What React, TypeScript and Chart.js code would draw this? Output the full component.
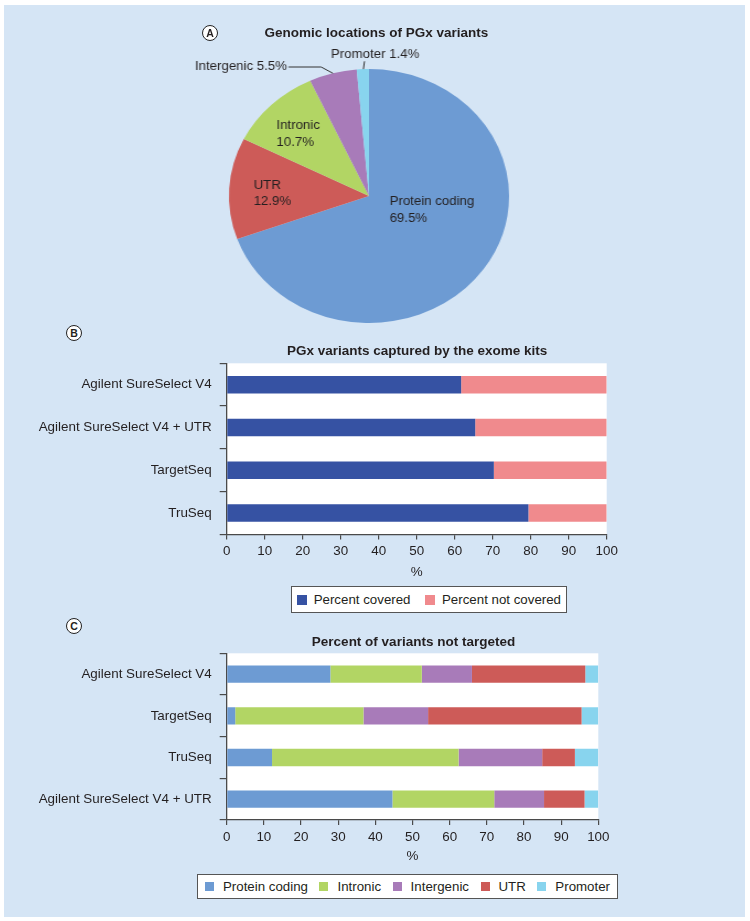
import React, { useEffect, useRef } from 'react';
import { Chart, registerables } from 'chart.js';

Chart.register(...registerables);

const FONT = '"Liberation Sans", Arial, Helvetica, sans-serif';
const TEXT = '#231f20';
const AXIS = '#4a4a4a';

// ---------- Panel A: genomic locations ----------
const pieLabels = ['Protein coding', 'UTR', 'Intronic', 'Intergenic', 'Promoter'];
const pieValues = [69.5, 12.9, 10.7, 5.5, 1.4];
const regionColors = ['#6d9bd3', '#cd5b58', '#b2d564', '#a87bb9', '#88d4ee'];

// ---------- Panel B: captured by exome kits ----------
const kitsB = ['Agilent SureSelect V4', 'Agilent SureSelect V4 + UTR', 'TargetSeq', 'TruSeq'];
const coveredB = [61.7, 65.4, 70.3, 79.4];
const notCoveredB = [38.3, 34.6, 29.7, 20.6];
const coverageNames = ['Percent covered', 'Percent not covered'];
const coverageColors = ['#3652a3', '#f08a8d'];

// ---------- Panel C: not targeted ----------
const kitsC = ['Agilent SureSelect V4', 'TargetSeq', 'TruSeq', 'Agilent SureSelect V4 + UTR'];
const proteinC = [27.9, 2.3, 12.2, 44.6];
const intronicC = [24.6, 34.5, 50.2, 27.4];
const intergenicC = [13.5, 17.4, 22.5, 13.4];
const utrC = [30.5, 41.3, 8.8, 10.9];
const promoterC = [3.5, 4.5, 6.3, 3.7];
const legendOrderC = ['Protein coding', 'Intronic', 'Intergenic', 'UTR', 'Promoter'];
const seriesC = [proteinC, intronicC, intergenicC, utrC, promoterC];

// axis tick settings
const pctMin = 0;
const pctMax = 100;
const pctStep = 10;
const pctAxisTitle = '%';

// ---------- style helpers (positions of text relative to pie centre) ----------
const pieLabelLayout: any[] = [
  { dx: 18.7, dy: 6, align: 'left', split: true },
  { dx: -104.6, dy: -10.7, align: 'left', split: true },
  { dx: -83.9, dy: -70.4, align: 'left', split: true },
  { dx: -74.4, dy: -129, align: 'right', split: false, leader: 'elbow', elbow: 31 },
  { dx: 5.6, dy: -141.7, align: 'center', split: false, leader: 'vertical' },
];

const pieLabelPlugin = {
  id: 'pieLabels',
  afterDatasetsDraw(chart: any) {
    const ctx = chart.ctx;
    const meta = chart.getDatasetMeta(0);
    ctx.save();
    ctx.font = `12px ${FONT}`;
    ctx.fillStyle = TEXT;
    ctx.strokeStyle = '#333';
    ctx.lineWidth = 1;
    ctx.textBaseline = 'middle';
    meta.data.forEach((arc: any, i: number) => {
      const p = arc.getProps(['x', 'y', 'startAngle', 'endAngle', 'outerRadius'], true);
      const L = pieLabelLayout[i];
      const mid = (p.startAngle + p.endAngle) / 2;
      const ex = p.x + Math.cos(mid) * p.outerRadius;
      const ey = p.y + Math.sin(mid) * p.outerRadius;
      const name = pieLabels[i];
      const pct = pieValues[i].toFixed(1) + '%';
      const tx = p.x + L.dx;
      const ty = p.y + L.dy;
      ctx.textAlign = L.align;
      if (L.split) {
        ctx.fillText(name, tx, ty);
        ctx.fillText(pct, tx, ty + 16.6);
      } else {
        ctx.fillText(`${name} ${pct}`, tx, ty);
      }
      if (L.leader === 'elbow') {
        ctx.beginPath();
        ctx.moveTo(tx + 1.5, ty);
        ctx.lineTo(tx + L.elbow, ty);
        ctx.lineTo(ex, ey);
        ctx.stroke();
      } else if (L.leader === 'vertical') {
        ctx.beginPath();
        ctx.moveTo(ex + 1.5, ty + 7);
        ctx.lineTo(ex + 0.5, ey);
        ctx.stroke();
      }
    });
    ctx.restore();
  },
};

const plotBg = {
  id: 'plotBg',
  beforeDraw(chart: any) {
    const { ctx, chartArea: a } = chart;
    ctx.save();
    ctx.fillStyle = '#ffffff';
    ctx.fillRect(a.left, a.top, a.right - a.left, a.bottom - a.top);
    ctx.restore();
  },
};

function barConfig(labels: string[], datasets: any[], cfg: any): any {
  const font = { family: FONT, size: 13.4 };
  return {
    type: 'bar',
    data: { labels, datasets },
    plugins: [plotBg],
    options: {
      indexAxis: 'y',
      responsive: false,
      animation: false,
      events: [],
      layout: { padding: { top: cfg.padTop, right: cfg.padRight, left: 0, bottom: 0 } },
      plugins: { legend: { display: false }, tooltip: { enabled: false }, title: { display: false } },
      scales: {
        x: {
          stacked: true,
          min: pctMin,
          max: pctMax,
          ticks: { stepSize: pctStep, color: TEXT, font, padding: 4, autoSkip: false, maxRotation: 0 },
          grid: { drawOnChartArea: false, tickLength: 5, color: AXIS, lineWidth: 1.2 },
          border: { color: AXIS, width: 1.3 },
          title: { display: true, text: pctAxisTitle, color: TEXT, font, padding: { top: 0, bottom: cfg.titlePad } },
          afterFit: (s: any) => {
            s.height = cfg.xHeight;
            s.paddingLeft = 0;
            s.paddingRight = 0;
          },
        },
        y: {
          stacked: true,
          ticks: { color: TEXT, font, padding: 8, autoSkip: false },
          grid: { drawOnChartArea: false, tickLength: 7, color: AXIS, lineWidth: 1.2, offset: true },
          border: { color: AXIS, width: 1.3 },
          afterFit: (s: any) => {
            s.width = cfg.yWidth;
            s.paddingTop = 0;
            s.paddingBottom = 0;
          },
        },
      },
    },
  };
}

function Badge({ letter, cx, cy }: { letter: string; cx: number; cy: number }) {
  return (
    <div
      style={{
        position: 'absolute',
        left: cx - 8,
        top: cy - 8,
        width: 16,
        height: 16,
        borderRadius: '50%',
        border: '1.5px solid #222',
        boxSizing: 'border-box',
        background: '#ffffff',
        display: 'flex',
        alignItems: 'center',
        justifyContent: 'center',
        fontFamily: FONT,
        fontWeight: 700,
        fontSize: 10.5,
        lineHeight: '10px',
        color: TEXT,
      }}
    >
      {letter}
    </div>
  );
}

function Title({ text, cx, cy }: { text: string; cx: number; cy: number }) {
  return (
    <div
      style={{
        position: 'absolute',
        left: cx - 250,
        top: cy - 9,
        width: 500,
        height: 18,
        lineHeight: '18px',
        textAlign: 'center',
        fontFamily: FONT,
        fontWeight: 700,
        fontSize: 13.5,
        color: TEXT,
        whiteSpace: 'nowrap',
      }}
    >
      {text}
    </div>
  );
}

function Legend(props: {
  names: string[];
  colors: string[];
  left: number;
  top: number;
  width: number;
  height: number;
  sw: number;
  swGap: number;
  itemGap: number;
}) {
  const { names, colors, left, top, width, height, sw, swGap, itemGap } = props;
  return (
    <div
      style={{
        position: 'absolute',
        left,
        top,
        width,
        height,
        boxSizing: 'border-box',
        border: '1.3px solid #555',
        background: '#ffffff',
        display: 'flex',
        alignItems: 'center',
        justifyContent: 'center',
        fontFamily: FONT,
        fontSize: 13.3,
        color: TEXT,
        whiteSpace: 'nowrap',
      }}
    >
      {names.map((n, i) => (
        <div key={n} style={{ display: 'flex', alignItems: 'center', marginLeft: i === 0 ? 0 : itemGap }}>
          <span style={{ display: 'inline-block', width: sw, height: sw, background: colors[i], marginRight: swGap }} />
          <span>{n}</span>
        </div>
      ))}
    </div>
  );
}

export default function App() {
  const pieRef = useRef<HTMLCanvasElement>(null);
  const bRef = useRef<HTMLCanvasElement>(null);
  const cRef = useRef<HTMLCanvasElement>(null);

  useEffect(() => {
    Chart.defaults.font.family = FONT;
    const charts: Chart[] = [];

    charts.push(
      new Chart(pieRef.current as HTMLCanvasElement, {
        type: 'pie',
        data: {
          labels: pieLabels,
          datasets: [{ data: pieValues, backgroundColor: regionColors, borderWidth: 0 }],
        },
        plugins: [pieLabelPlugin],
        options: {
          responsive: false,
          animation: false,
          events: [],
          layout: { padding: { top: 38, bottom: 28, left: 43, right: 43 } },
          plugins: { legend: { display: false }, tooltip: { enabled: false } },
        },
      } as any)
    );

    charts.push(
      new Chart(
        bRef.current as HTMLCanvasElement,
        barConfig(
          kitsB,
          [
            { label: coverageNames[0], data: coveredB, backgroundColor: coverageColors[0], borderWidth: 0, barPercentage: 0.41, categoryPercentage: 1 },
            { label: coverageNames[1], data: notCoveredB, backgroundColor: coverageColors[1], borderWidth: 0, barPercentage: 0.41, categoryPercentage: 1 },
          ],
          { padTop: 13.3, padRight: 33.3, xHeight: 55.5, yWidth: 226.7, titlePad: 9.3 }
        )
      )
    );

    charts.push(
      new Chart(
        cRef.current as HTMLCanvasElement,
        barConfig(
          kitsC,
          seriesC.map((d, i) => ({
            label: legendOrderC[i],
            data: d,
            backgroundColor: regionColors[pieLabels.indexOf(legendOrderC[i])],
            borderWidth: 0,
            barPercentage: 0.415,
            categoryPercentage: 1,
          })),
          { padTop: 13.3, padRight: 41.7, xHeight: 56, yWidth: 226.7, titlePad: 11.3 }
        )
      )
    );

    return () => charts.forEach((c) => c.destroy());
  }, []);

  return (
    <div style={{ position: 'absolute', left: 0, top: 0, width: 750, height: 921, background: '#ffffff', overflow: 'hidden' }}>
      <div style={{ position: 'absolute', left: 4, top: 5, width: 741, height: 912, background: '#d5e5f5' }} />

      <div
        style={{
          position: 'absolute',
          left: 198.8,
          top: 30.7,
          width: 340,
          height: 320,
          transform: 'scaleX(1.103)',
          transformOrigin: '170px 165px',
        }}
      >
        <canvas ref={pieRef} width={340} height={320} />
      </div>

      <div style={{ position: 'absolute', left: 0, top: 350, width: 640, height: 240 }}>
        <canvas ref={bRef} width={640} height={240} />
      </div>

      <div style={{ position: 'absolute', left: 0, top: 640, width: 640, height: 236 }}>
        <canvas ref={cRef} width={640} height={236} />
      </div>

      <Badge letter="A" cx={210} cy={32.5} />
      <Badge letter="B" cx={74} cy={333} />
      <Badge letter="C" cx={74} cy={626} />

      <Title text="Genomic locations of PGx variants" cx={376.4} cy={33.3} />
      <Title text="PGx variants captured by the exome kits" cx={417.2} cy={350.7} />
      <Title text="Percent of variants not targeted" cx={413.5} cy={642.3} />

      <Legend
        names={coverageNames}
        colors={coverageColors}
        left={291}
        top={586}
        width={275.7}
        height={27.3}
        sw={10}
        swGap={7}
        itemGap={14.5}
      />
      <Legend
        names={legendOrderC}
        colors={legendOrderC.map((n) => regionColors[pieLabels.indexOf(n)])}
        left={197.3}
        top={873.7}
        width={420.4}
        height={25.3}
        sw={9}
        swGap={9}
        itemGap={11.5}
      />
    </div>
  );
}
